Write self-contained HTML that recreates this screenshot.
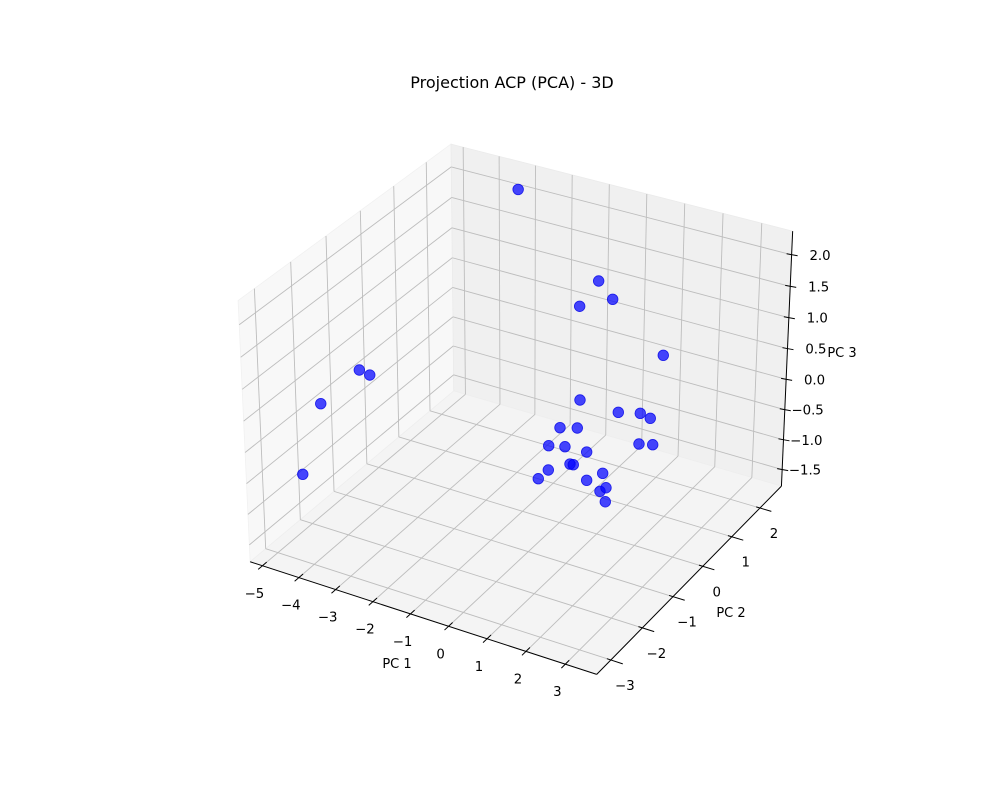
<!DOCTYPE html>
<html><head><meta charset="utf-8"><title>Projection ACP (PCA) - 3D</title>
<style>
html,body{margin:0;padding:0;background:#fff;}
svg{display:block;font-family:"DejaVu Sans","Liberation Sans",sans-serif;}
</style></head>
<body>
<svg id="chart" width="1000" height="800" viewBox="0 0 1000 800" xmlns="http://www.w3.org/2000/svg">
<rect x="0" y="0" width="1000" height="800" fill="#ffffff"/>
<text x="512" y="88" font-size="16" text-anchor="middle" fill="#000">Projection ACP (PCA) - 3D</text>
<g id="panes"></g>
<g id="grid"></g>
<g id="axes"></g>
<g id="points"></g>
<text x="397" y="668" font-size="13" text-anchor="middle">PC 1</text>
<text x="731" y="617" font-size="13" text-anchor="middle">PC 2</text>
<text x="842" y="357" font-size="13" text-anchor="middle">PC 3</text>
</svg>
<script>
var pc1 = [-3.17, 0.115, 0.499, -0.118, 1.828, -4.139, -3.903, -4.714, -4.666, 0.427, 1.260, 1.703, 1.931, 0.188, 0.534, 0.066, 0.396, 0.859, 1.854, 2.131, 0.595, 0.665, 0.198, 0.049, 1.021, 1.300, 1.448, 1.349, 1.515];
var pc2 = [2.42, 1.068, 1.054, 0.748, 1.071, -1.409, -1.361, -1.939, -2.559, 0.115, 0.332, 0.497, 0.542, -0.229, -0.096, -0.439, -0.319, -0.185, 0.279, 0.382, -0.397, -0.376, -0.607, -0.745, -0.377, -0.204, -0.276, -0.347, -0.376];
var pc3 = [2.10, 1.695, 1.474, 1.390, 0.798, 0.621, 0.560, 0.214, -0.638, 0.259, 0.110, 0.098, 0.038, -0.075, -0.079, -0.293, -0.305, -0.369, -0.272, -0.281, -0.514, -0.522, -0.586, -0.691, -0.710, -0.626, -0.800, -0.843, -0.969];
var xTicks = [-5, -4, -3, -2, -1, 0, 1, 2, 3];
var yTicks = [-3, -2, -1, 0, 1, 2];
var zTicks = [-1.5, -1.0, -0.5, 0.0, 0.5, 1.0, 1.5, 2.0];
var xLim = [-5.34, 3.79];
var yLim = [-3.44, 2.78];
var zLim = [-1.78, 2.37];

var NS = 'http://www.w3.org/2000/svg';
var BX = 1.142857, BY = 1.142857, BZ = 0.857143;
var U = [0.866025, 0.5, 0], V = [-0.25, 0.433013, 0.866025], W = [0.433013, -0.75, 0.5];
var S = 3475, CX = 520.5, CY = 397;
function q(x, y, z) {
  return [(x - xLim[0]) / (xLim[1] - xLim[0]) * BX - BX / 2,
          (y - yLim[0]) / (yLim[1] - yLim[0]) * BY - BY / 2,
          (z - zLim[0]) / (zLim[1] - zLim[0]) * BZ - BZ / 2];
}
function dot(a, b) { return a[0] * b[0] + a[1] * b[1] + a[2] * b[2]; }
function proj(x, y, z) {
  var p = q(x, y, z);
  var d = 10 - dot(W, p);
  return [CX + S * dot(U, p) / d, CY - S * dot(V, p) / d, d];
}
function mk(tag, attrs, parent) {
  var e = document.createElementNS(NS, tag);
  for (var k in attrs) e.setAttribute(k, attrs[k]);
  parent.appendChild(e);
  return e;
}
function poly(pts) { return pts.map(function (p) { return p[0].toFixed(2) + ',' + p[1].toFixed(2); }).join(' '); }
function fmt(v, dec) { var s = v.toFixed(dec); return s.replace('-', '\u2212'); }

var panes = document.getElementById('panes');
var grid = document.getElementById('grid');
var axes = document.getElementById('axes');
var pts = document.getElementById('points');
var x0 = xLim[0], x1 = xLim[1], y0 = yLim[0], y1 = yLim[1], z0 = zLim[0], z1 = zLim[1];

var pX = mk('polygon', {points: poly([proj(x0,y0,z0), proj(x0,y1,z0), proj(x0,y1,z1), proj(x0,y0,z1)]), fill: '#f8f8f8', stroke: '#f1f1f1', 'stroke-width': 0.8}, panes);


var pY = mk('polygon', {points: poly([proj(x0,y1,z0), proj(x1,y1,z0), proj(x1,y1,z1), proj(x0,y1,z1)]), fill: '#f0f0f0', stroke: '#ebebeb', 'stroke-width': 0.8}, panes);


var pZ = mk('polygon', {points: poly([proj(x0,y0,z0), proj(x1,y0,z0), proj(x1,y1,z0), proj(x0,y1,z0)]), fill: '#f4f4f4', stroke: '#eeeeee', 'stroke-width': 0.8}, panes);



function gline(a, b, name) {
  var l = mk('line', {x1: a[0], y1: a[1], x2: b[0], y2: b[1], stroke: '#bdbdbd', 'stroke-width': 0.9}, grid);
  
  
}
xTicks.forEach(function (t) {
  gline(proj(t, y0, z0), proj(t, y1, z0), 'x-gridline-floor');
  gline(proj(t, y1, z0), proj(t, y1, z1), 'x-gridline-back');
});
yTicks.forEach(function (t) {
  gline(proj(x0, t, z0), proj(x1, t, z0), 'y-gridline-floor');
  gline(proj(x0, t, z0), proj(x0, t, z1), 'y-gridline-side');
});
zTicks.forEach(function (t) {
  gline(proj(x0, y0, t), proj(x0, y1, t), 'z-gridline-side');
  gline(proj(x0, y1, t), proj(x1, y1, t), 'z-gridline-back');
});

function aline(a, b, name) {
  var l = mk('line', {x1: a[0], y1: a[1], x2: b[0], y2: b[1], stroke: '#000', 'stroke-width': 1}, axes);
  
  
}
aline(proj(x0, y0, z0), proj(x1, y0, z0), 'x-axis-line');
aline(proj(x1, y0, z0), proj(x1, y1, z0), 'y-axis-line');
aline(proj(x1, y1, z0), proj(x1, y1, z1), 'z-axis-line');

function label(x, y, txt, anchor, name) {
  var t = mk('text', {x: x, y: y, 'font-size': 13.3, 'text-anchor': anchor, fill: '#000'}, axes);
  t.textContent = txt;
  
  
}
xTicks.forEach(function (t) {
  var p = proj(t, y0, z0);
  var a = proj(t, y0 - 0.12, z0), b = proj(t, y0 + 0.12, z0);
  aline(a, b, 'x-tick');
  label(p[0] - 8, p[1] + 32, fmt(t, 0), 'middle', 'x-tick-label');
});
yTicks.forEach(function (t) {
  var p = proj(x1, t, z0);
  var a = proj(x1 - 0.1, t, z0), b = proj(x1 + 0.3, t, z0);
  aline(a, b, 'y-tick');
  label(p[0] + 14, p[1] + 30, fmt(t, 0), 'middle', 'y-tick-label');
});
zTicks.forEach(function (t) {
  var p = proj(x1, y1, t);
  aline([p[0] - 5, p[1] - 1], [p[0] + 6, p[1] + 1], 'z-tick');
  label(p[0] + 39, p[1] + 5, fmt(t, 1), 'end', 'z-tick-label');
});

var order = pc1.map(function (_, i) { return i; });
order.sort(function (i, j) { return proj(pc1[j], pc2[j], pc3[j])[2] - proj(pc1[i], pc2[i], pc3[i])[2]; });
order.forEach(function (i) {
  var p = proj(pc1[i], pc2[i], pc3[i]);
  var c = mk('circle', {cx: p[0].toFixed(2), cy: p[1].toFixed(2), r: 5.3, fill: 'rgba(0,0,255,0.72)', stroke: 'rgba(0,0,230,0.8)', 'stroke-width': 0.8}, pts);
  
  
});
</script>
</body></html>
